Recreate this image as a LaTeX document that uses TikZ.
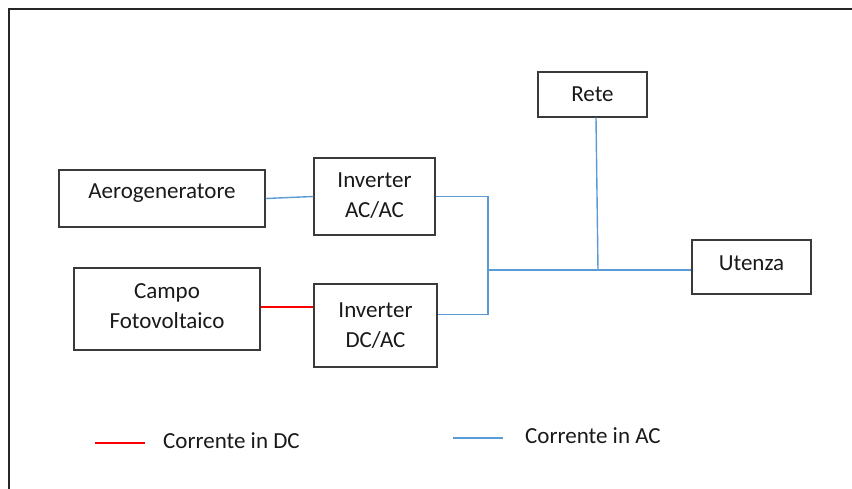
\documentclass[tikz,border=0pt]{standalone}
\usepackage{fontspec}
\setmainfont{Carlito}
\definecolor{acblue}{HTML}{5B9BD5}
\definecolor{dcred}{HTML}{FF0000}
\definecolor{boxline}{HTML}{3A3A3A}
\begin{document}
\begin{tikzpicture}[x=1pt, y=-1pt,
  block/.style={draw=boxline, line width=1.4pt, rectangle, inner sep=0pt},
  txt/.style={align=center, inner sep=0pt, font=\fontsize{23}{30}\selectfont, text=black!90},
  acline/.style={draw=acblue, line width=1.4pt},
  dcline/.style={draw=dcred, line width=1.1pt},
  legend/.style={txt, anchor=west}]
  \useasboundingbox (0,0) rectangle (852,489);
  % outer frame (left and top edges)
  \draw[line width=2.4pt, black!85] (9,489) -- (9,9) -- (852,9);

  % blocks
  \node[block, minimum width=109pt, minimum height=45pt] (rete) at (592.5,94.5) {};
  \node[block, minimum width=119pt, minimum height=54pt] (utenza) at (751.5,267) {};
  \node[block, minimum width=121pt, minimum height=77pt] (acac) at (374.5,196.5) {};
  \node[block, minimum width=123pt, minimum height=83pt] (dcac) at (375.5,325.5) {};
  \node[block, minimum width=206pt, minimum height=57pt] (aero) at (162,198.5) {};
  \node[block, minimum width=186pt, minimum height=82pt] (campo) at (167,309) {};

  % block captions
  \node[txt] (retetext) at (rete.center) {Rete};
  \node[txt] (utenzatext) at ([yshift=4pt]utenza.center) {Utenza};
  \node[txt] (acactext) at ([yshift=1pt]acac.center) {Inverter\\AC/AC};
  \node[txt] (dcactext) at (dcac.center) {Inverter\\DC/AC};
  \node[txt] (aerotext) at ([yshift=5pt]aero.center) {Aerogeneratore};
  \node[txt] (campotext) at ([yshift=3pt]campo.center) {Campo\\Fotovoltaico};

  % junction points of the AC bus
  \coordinate (bus) at (488,270);
  \coordinate (tap) at (598,270);

  % connections
  \draw[acline] (aero.east) -- (acac.west);
  \draw[dcline] ([yshift=2pt]campo.east) -- ([yshift=2pt]campo.east -| dcac.west);
  \draw[acline] (acac.east) -| (bus) |- ([yshift=11pt]dcac.east);
  \draw[acline] (bus) -- (bus -| utenza.west);
  \draw[acline] ([xshift=3.5pt]rete.south) -- (tap);

  % legend
  \coordinate (dca) at (95,443);
  \coordinate (dcb) at (145,443);
  \coordinate (aca) at (453,438);
  \coordinate (acb) at (503,438);
  \draw[dcline] (dca) -- (dcb);
  \draw[acline] (aca) -- (acb);
  \node[legend] (dctext) at (163,441) {Corrente in DC};
  \node[legend] (actext) at (525,436) {Corrente in AC};
\end{tikzpicture}
\end{document}
